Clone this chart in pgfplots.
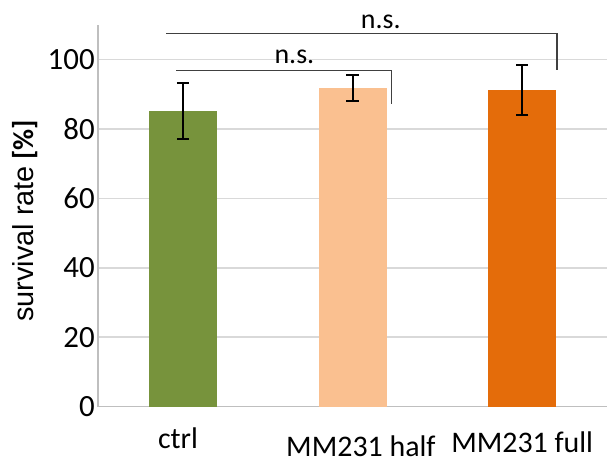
\documentclass[border=0pt]{standalone}
\usepackage{pgfplots}
\pgfplotsset{compat=1.18}
\usepackage{fontspec}
\setmainfont{Carlito}
\newfontfamily\arialfont{Liberation Sans}
\definecolor{cgreen}{HTML}{77933C}
\definecolor{clight}{HTML}{FAC090}
\definecolor{cdark}{HTML}{E46C0A}
\definecolor{cgrid}{HTML}{D9D9D9}
\definecolor{caxis}{HTML}{BFBFBF}
\definecolor{cbr}{HTML}{404040}
\begin{document}
\begin{tikzpicture}
\path[use as bounding box] (0,0) rectangle (612bp,471bp);
\begin{axis}[
  at={(98.2bp,64.3bp)}, anchor=south west,
  scale only axis, width=508.8bp, height=382.1bp,
  xmin=-0.5, xmax=2.5, ymin=0, ymax=110,
  axis lines=left, axis line style={-, caxis, line width=1.5bp},
  ytick={0,20,...,100}, xtick={0,1,2},
  xticklabels={{ctrl\hspace*{10bp}},{\hspace*{16.6bp}\raisebox{-8bp}{MM231 half}},{\raisebox{-4.7bp}{MM231 full}}},
  ymajorgrids, grid style={cgrid, line width=1.5bp},
  major tick length=0pt,
  yticklabel style={font=\fontsize{31}{34}\selectfont, xshift=0bp},
  xticklabel style={font=\fontsize{30}{33}\selectfont, anchor=base, yshift=-41.3bp},
  /pgf/number format/assume math mode=true,
  clip=false,
  error bars/error bar style={black, line width=2bp},
  error bars/error mark options={rotate=90, mark size=6.2bp, line width=2bp, black},
]
\addplot[ybar, bar width=0.4, bar shift=0pt, fill=cgreen, draw=none,
  error bars/.cd, y dir=both, y explicit]
  coordinates {(0,85.1) +- (0,8.0)};
\addplot[ybar, bar width=0.4, bar shift=0pt, fill=clight, draw=none,
  error bars/.cd, y dir=both, y explicit]
  coordinates {(1,91.8) +- (0,3.7)};
\addplot[ybar, bar width=0.4, bar shift=0pt, fill=cdark, draw=none,
  error bars/.cd, y dir=both, y explicit]
  coordinates {(2,91.2) +- (0,7.2)};
% significance brackets
\addplot[sharp plot, no marks, cbr, line width=1.2bp]
  coordinates {(-0.041,96.73) (1.227,96.73) (1.227,87.14)};
\addplot[sharp plot, no marks, cbr, line width=1.2bp]
  coordinates {(-0.100,107.38) (2.205,107.38) (2.205,96.93)};
\node[anchor=base, font=\fontsize{28}{30}\selectfont] at (axis cs:0.657,98.86) {n.s.};
\node[anchor=base, font=\fontsize{28}{30}\selectfont] at (axis cs:1.166,108.93) {n.s.};
\node[rotate=90, anchor=base, font=\fontsize{29}{32}\selectfont] at (axis description cs:-0.128,0.4865) {{\arialfont survival rate} \textbf{[\%]}};
\end{axis}
\end{tikzpicture}
\end{document}
